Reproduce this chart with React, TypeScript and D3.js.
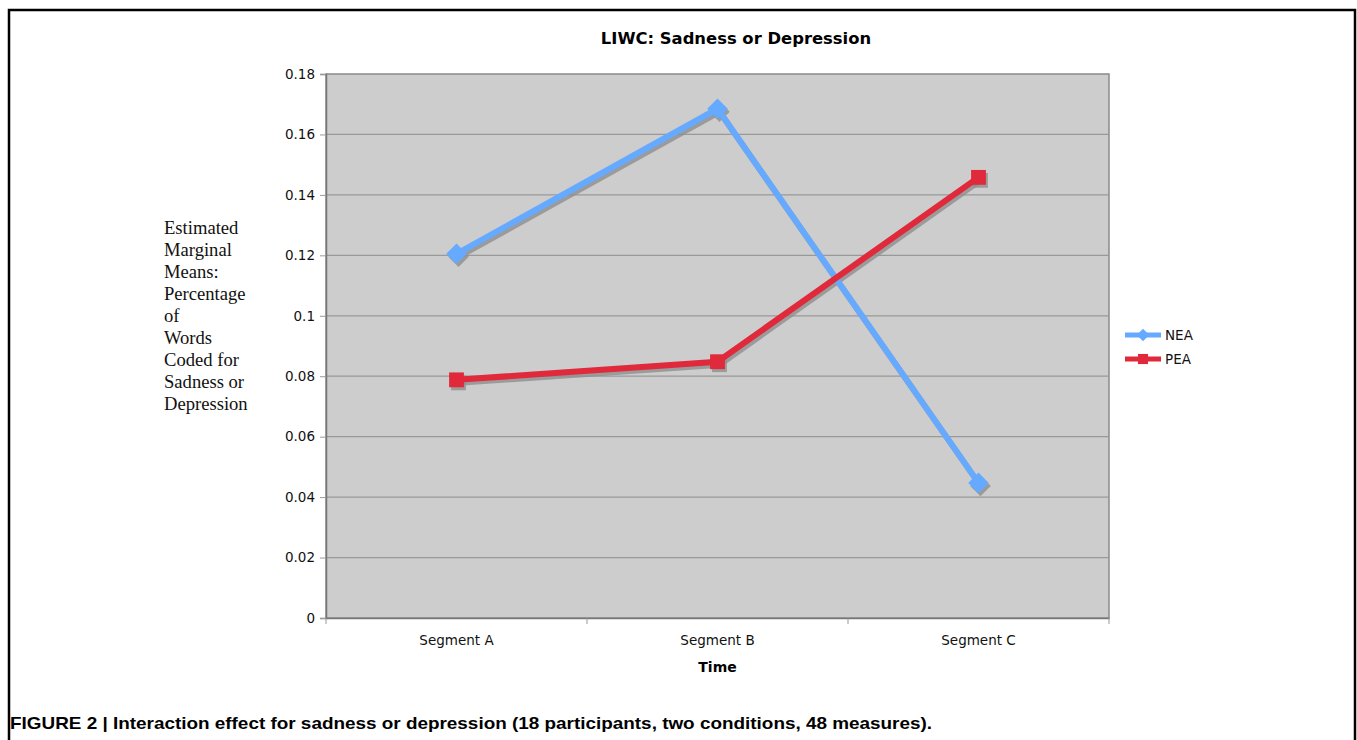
import React, { useRef, useEffect } from 'react';
import * as d3 from 'd3';

// Data
const segments = ['Segment A', 'Segment B', 'Segment C'];
const neaValues = [0.1205, 0.1685, 0.0447];
const peaValues = [0.0788, 0.0848, 0.1458];
const yTicks = [0, 0.02, 0.04, 0.06, 0.08, 0.1, 0.12, 0.14, 0.16, 0.18];
const yLabelLines = [
    'Estimated', 'Marginal', 'Means:', 'Percentage', 'of',
    'Words', 'Coded for', 'Sadness or', 'Depression',
];

interface Series {
    name: string;
    values: number[];
    color: string;
    symbol: d3.SymbolType;
}

const series: Series[] = [
    { name: 'NEA', values: neaValues, color: '#66aaff', symbol: d3.symbolDiamond2 },
    { name: 'PEA', values: peaValues, color: '#e0293a', symbol: d3.symbolSquare2 },
];

const W = 1357;
const H = 740;
const plot = { left: 326, top: 74, right: 1109, bottom: 618 };

const markerSize = (s: Series) => (s.symbol === d3.symbolSquare2 ? 280 : 270);

const App: React.FC = () => {
    const ref = useRef<SVGSVGElement>(null);

    useEffect(() => {
        if (ref.current) drawChart();
    }, []);

    const drawChart = () => {
        const svg = d3.select(ref.current);
        svg.selectAll('*').remove();

        const x = d3.scaleBand()
            .domain(segments)
            .range([plot.left, plot.right]);

        const y = d3.scaleLinear()
            .domain([0, 0.18])
            .range([plot.bottom, plot.top]);

        // outer frame
        svg.append('path')
            .attr('d', `M9,${H} V10 H1355 V${H}`)
            .attr('fill', 'none')
            .attr('stroke', '#000')
            .attr('stroke-width', 2.5);

        // plot background
        svg.append('rect')
            .attr('x', plot.left)
            .attr('y', plot.top)
            .attr('width', plot.right - plot.left)
            .attr('height', plot.bottom - plot.top)
            .attr('fill', '#cdcdcd')
            .attr('stroke', '#8a8a8a')
            .attr('stroke-width', 1.5);

        // gridlines
        svg.append('g')
            .selectAll('line')
            .data(yTicks.filter(t => t > 0 && t < 0.18))
            .enter().append('line')
            .attr('x1', plot.left)
            .attr('x2', plot.right)
            .attr('y1', d => y(d))
            .attr('y2', d => y(d))
            .attr('stroke', '#999')
            .attr('stroke-width', 1.2);

        // y axis
        const yAxis = svg.append('g')
            .attr('transform', `translate(${plot.left},0)`)
            .call(d3.axisLeft(y).tickValues(yTicks).tickSize(6).tickPadding(5)
                .tickFormat(d => String(+(+d).toFixed(2))));
        yAxis.select('.domain').attr('stroke', '#777').attr('stroke-width', 1.5);
        yAxis.selectAll('.tick line').attr('stroke', '#999');
        yAxis.selectAll('text')
            .attr('font-family', 'DejaVu Sans, Verdana, sans-serif')
            .attr('font-size', 13.5)
            .attr('fill', '#111');

        // x axis
        const xAxis = svg.append('g')
            .attr('transform', `translate(0,${plot.bottom})`)
            .call(d3.axisBottom(x).tickSize(0).tickPadding(17));
        xAxis.select('.domain').attr('stroke', '#777').attr('stroke-width', 1.5);
        xAxis.selectAll('text')
            .attr('font-family', 'DejaVu Sans, Verdana, sans-serif')
            .attr('font-size', 13.5)
            .attr('fill', '#111');

        // category boundary ticks
        const bounds = [...segments.map(s => x(s)!), plot.right];
        svg.append('g')
            .selectAll('line')
            .data(bounds)
            .enter().append('line')
            .attr('x1', d => d)
            .attr('x2', d => d)
            .attr('y1', plot.bottom)
            .attr('y2', plot.bottom + 6)
            .attr('stroke', '#999');

        const cx = (i: number) => x(segments[i])! + x.bandwidth() / 2;
        const line = d3.line<number>()
            .x((_, i) => cx(i))
            .y(d => y(d));

        // shadows first
        series.forEach(s => {
            const g = svg.append('g').attr('transform', 'translate(2,3)');
            g.append('path')
                .attr('d', line(s.values))
                .attr('fill', 'none')
                .attr('stroke', '#8f8f8f')
                .attr('stroke-opacity', 0.8)
                .attr('stroke-width', 6);
            g.selectAll('path.m')
                .data(s.values)
                .enter().append('path')
                .attr('class', 'm')
                .attr('transform', (d, i) => `translate(${cx(i)},${y(d)})`)
                .attr('d', d3.symbol(s.symbol, markerSize(s))())
                .attr('fill', '#8f8f8f')
                .attr('fill-opacity', 0.8);
        });

        series.forEach(s => {
            svg.append('path')
                .attr('d', line(s.values))
                .attr('fill', 'none')
                .attr('stroke', s.color)
                .attr('stroke-width', 6);
            svg.append('g')
                .selectAll('path')
                .data(s.values)
                .enter().append('path')
                .attr('transform', (d, i) => `translate(${cx(i)},${y(d)})`)
                .attr('d', d3.symbol(s.symbol, markerSize(s))())
                .attr('fill', s.color);
        });

        // title
        svg.append('text')
            .attr('x', 736)
            .attr('y', 44)
            .attr('text-anchor', 'middle')
            .attr('font-family', 'DejaVu Sans, Verdana, sans-serif')
            .attr('font-weight', 'bold')
            .attr('font-size', 16.4)
            .text('LIWC: Sadness or Depression');

        // x axis title
        svg.append('text')
            .attr('x', (plot.left + plot.right) / 2)
            .attr('y', 672)
            .attr('text-anchor', 'middle')
            .attr('font-family', 'DejaVu Sans, Verdana, sans-serif')
            .attr('font-weight', 'bold')
            .attr('font-size', 14)
            .text('Time');

        // y axis title
        svg.append('g')
            .selectAll('text')
            .data(yLabelLines)
            .enter().append('text')
            .attr('x', 164)
            .attr('y', (_, i) => 234 + i * 22)
            .attr('font-family', 'Liberation Serif, Times New Roman, serif')
            .attr('font-size', 18.6)
            .attr('fill', '#111')
            .text(d => d);

        // legend
        const legend = svg.append('g');
        series.forEach((s, i) => {
            const ly = 335 + i * 24;
            legend.append('line')
                .attr('x1', 1125)
                .attr('x2', 1161)
                .attr('y1', ly)
                .attr('y2', ly)
                .attr('stroke', s.color)
                .attr('stroke-width', 5);
            legend.append('path')
                .attr('transform', `translate(1143,${ly})`)
                .attr('d', d3.symbol(s.symbol, s.symbol === d3.symbolSquare2 ? 130 : 100)())
                .attr('fill', s.color);
            legend.append('text')
                .attr('x', 1165)
                .attr('y', ly + 5)
                .attr('font-family', 'DejaVu Sans, Verdana, sans-serif')
                .attr('font-size', 13.5)
                .attr('fill', '#111')
                .text(s.name);
        });

        // caption
        svg.append('text')
            .attr('x', 10)
            .attr('y', 729)
            .attr('font-family', 'Liberation Sans, Arial, sans-serif')
            .attr('font-weight', 'bold')
            .attr('font-size', 17)
            .attr('textLength', 922)
            .attr('lengthAdjust', 'spacingAndGlyphs')
            .text('FIGURE 2 | Interaction effect for sadness or depression (18 participants, two conditions, 48 measures).');
    };

    return (
        <svg ref={ref} width={W} height={H}
            style={{ position: 'absolute', left: 0, top: 0, background: '#fff' }} />
    );
};

export default App;
